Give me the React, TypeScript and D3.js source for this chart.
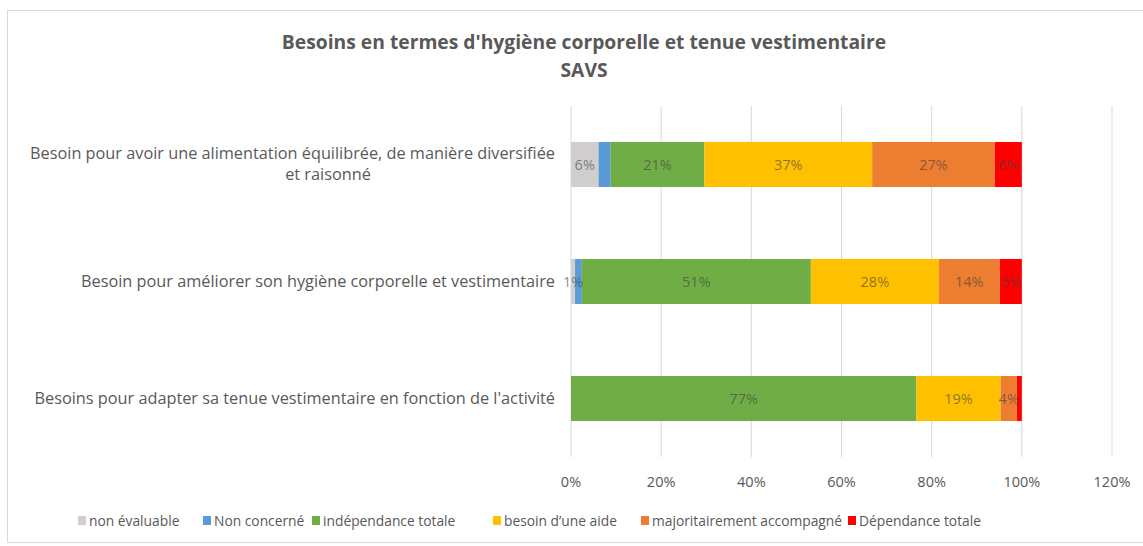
import React from "react";
import * as d3 from "d3";

const categories = [
  "Besoin pour avoir une alimentation équilibrée, de manière diversifiée et raisonné",
  "Besoin pour améliorer son hygiène corporelle et vestimentaire",
  "Besoins pour adapter sa tenue vestimentaire en fonction de l'activité",
];
const categoryLines = [
  ["Besoin pour avoir une alimentation équilibrée, de manière diversifiée", "et raisonné"],
  ["Besoin pour améliorer son hygiène corporelle et vestimentaire"],
  ["Besoins pour adapter sa tenue vestimentaire en fonction de l'activité"],
];

const seriesNames = [
  "non évaluable",
  "Non concerné",
  "indépendance totale",
  "besoin d’une aide",
  "majoritairement accompagné",
  "Dépendance totale",
];
const nonEvaluable = [6.1, 0.9, 0];
const nonConcerne = [2.7, 1.5, 0];
const independance = [20.8, 50.8, 76.6];
const besoinAide = [37.2, 28.4, 18.7];
const majoritairement = [27.2, 13.5, 3.6];
const dependance = [6.0, 4.9, 1.1];
const seriesValues = [nonEvaluable, nonConcerne, independance, besoinAide, majoritairement, dependance];
const colors = ["#d0cece", "#5b9bd5", "#70ad47", "#ffc000", "#ed7d31", "#ff0000"];
// labels shown per series per category
const showLabels = [
  [true, true, false],
  [false, false, false],
  [true, true, true],
  [true, true, true],
  [true, true, true],
  [true, true, false],
];
const xTicks = [0, 20, 40, 60, 80, 100, 120];

const FONT = "'Open Sans', Lato, sans-serif";

export default function App() {
  const W = 1143, H = 546;
  const x = d3.scaleLinear().domain([0, 120]).range([571, 1112]);
  const y = d3.scaleBand<number>().domain([0, 1, 2]).range([106, 457]).paddingInner(0.615).paddingOuter(0.3075);

  const rows = categories.map((c, i) => {
    const o: Record<string, number> = { idx: i };
    seriesNames.forEach((s, k) => (o[s] = seriesValues[k][i]));
    return o;
  });
  const stacked = d3.stack<Record<string, number>>().keys(seriesNames)(rows);

  const legendTextX = [89, 214, 323, 504, 652, 859];

  return (
    <svg width={W} height={H} style={{ position: "absolute", left: 0, top: 0, background: "#fff" }} fontFamily={FONT}>
      <rect x={7.5} y={10.5} width={1150} height={532} fill="#fff" stroke="#d9d9d9" />
      <text x={584} y={49} textAnchor="middle" fontSize={19.3} fontWeight="bold" fill="#595959">
        Besoins en termes d'hygiène corporelle et tenue vestimentaire
      </text>
      <text x={584} y={77} textAnchor="middle" fontSize={19.3} fontWeight="bold" fill="#595959">
        SAVS
      </text>
      {xTicks.map((t) => (
        <g key={t}>
          <line x1={x(t)} x2={x(t)} y1={106} y2={457} stroke="#d9d9d9" />
          <text x={x(t)} y={487} textAnchor="middle" fontSize={14.5} fill="#595959">
            {t}%
          </text>
        </g>
      ))}
      {stacked.map((layer, k) =>
        layer.map((d, i) => {
          const x0 = x(d[0]);
          const x1 = x(d[1]);
          const w = x1 - x0;
          if (w <= 0) return null;
          return (
            <rect key={`${k}-${i}`} x={x0} y={y(i)} width={w} height={y.bandwidth()} fill={colors[k]} />
          );
        })
      )}
      {stacked.map((layer, k) =>
        layer.map((d, i) => {
          const v = d[1] - d[0];
          if (!showLabels[k][i] || v <= 0) return null;
          return (
            <text
              key={`l${k}-${i}`}
              x={x((d[0] + d[1]) / 2)}
              y={(y(i) as number) + y.bandwidth() / 2 + 5}
              textAnchor="middle"
              fontSize={14.5}
              fill="#404040"
              fillOpacity={0.6}
            >
              {Math.round(v)}%
            </text>
          );
        })
      )}
      {categoryLines.map((lines, i) => {
        const cy = (y(i) as number) + y.bandwidth() / 2;
        const n = lines.length;
        return lines.map((ln, j) => (
          <text
            key={`c${i}-${j}`}
            x={j === 0 ? 555 : 328}
            y={cy + 5 + (j - (n - 1) / 2) * 21}
            textAnchor={j === 0 ? "end" : "middle"}
            fontSize={16.3}
            fill="#595959"
          >
            {ln}
          </text>
        ));
      })}
      {seriesNames.map((s, k) => (
        <g key={s}>
          <rect x={legendTextX[k] - 11} y={516} width={8} height={9} fill={colors[k]} />
          <text x={legendTextX[k]} y={525.5} fontSize={13.8} fill="#595959">
            {s}
          </text>
        </g>
      ))}
    </svg>
  );
}
